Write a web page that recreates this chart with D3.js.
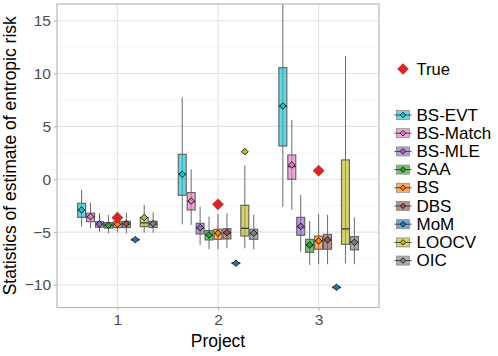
<!DOCTYPE html>
<html>
<head>
<meta charset="utf-8">
<script src="https://cdn.jsdelivr.net/npm/d3@7"></script>
<style>
  body { margin: 0; background: #fff; }
  svg { font-family: "Liberation Sans", Arial, Helvetica, sans-serif; }
</style>
</head>
<body>
<div id="chart"></div>
<script>
var projects = [1, 2, 3];
var methods = ["BS-EVT", "BS-Match", "BS-MLE", "SAA", "BS", "DBS", "MoM", "LOOCV", "OIC"];
var colors = ["#17becf", "#e377c2", "#9467bd", "#2ca02c", "#ff7f0e", "#8c564b", "#1f77b4", "#bcbd22", "#7f7f7f"];

// one row per project, one value per method
var whiskerLow = [
  [-4.48, -4.62, -4.96, -5.11, -5.05, -5.11, -5.83, -5.05, -5.05],
  [-4.26, -4.32, -6.21, -6.62, -6.62, -6.53, -8.04, -6.53, -6.62],
  [-2.59, -2.90, -6.85, -8.10, -8.04, -8.04, -10.31, -7.94, -8.04]
];
var q1 = [
  [-3.60, -4.01, -4.54, -4.62, -4.57, -4.57, -5.76, -4.48, -4.57],
  [-1.51, -2.90, -5.17, -5.74, -5.68, -5.65, -7.98, -5.37, -5.68],
  [3.15, 0.00, -5.30, -6.91, -6.62, -6.62, -10.26, -6.15, -6.68]
];
var median = [
  [-2.91, -3.56, -4.24, -4.37, -4.27, -4.22, -5.71, -4.12, -4.22],
  [0.51, -2.11, -4.62, -5.28, -5.13, -5.08, -7.94, -4.64, -5.13],
  [6.95, 1.20, -4.52, -6.23, -5.83, -5.73, -10.22, -4.70, -5.93]
];
var q3 = [
  [-2.27, -3.21, -4.01, -4.10, -4.01, -3.97, -5.66, -3.60, -3.97],
  [2.36, -1.26, -4.17, -4.85, -4.73, -4.67, -7.89, -2.46, -4.73],
  [10.56, 2.30, -3.60, -5.68, -5.37, -5.21, -10.18, 1.83, -5.43]
];
var whiskerHigh = [
  [-1.01, -2.21, -3.21, -3.37, -3.69, -3.15, -5.59, -2.43, -3.12],
  [7.76, 0.94, -2.59, -3.53, -3.28, -3.22, -7.84, 1.33, -3.37],
  [17.5, 5.62, -1.48, -3.95, -3.31, -3.37, -10.13, 11.66, -3.60]
];
var means = [
  [-2.90, -3.53, -4.23, -4.35, -4.26, -4.20, -5.71, -3.62, -4.20],
  [0.47, -2.06, -4.57, -5.27, -5.10, -5.04, -7.94, 2.61, -5.10],
  [6.93, 1.36, -4.45, -6.21, -5.83, -5.73, -10.22, 18, -5.96]
];
var trueValues = [-3.63, -2.37, 0.81];
var yTicks = [-10, -5, 0, 5, 10, 15];
var yMinor = [-7.5, -2.5, 2.5, 7.5, 12.5];

var W = 498, H = 356;
var panel = {left: 57, right: 379, top: 4, bottom: 307.5};

var svg = d3.select("#chart").append("svg")
  .attr("width", W).attr("height", H);

var x = d3.scaleLinear().domain([0.4, 3.6]).range([panel.left, panel.right]);
var y = d3.scaleLinear().domain([-12.13, 16.58]).range([panel.bottom, panel.top]);
var dodge = x(1.4) - x(0.6);
var xm = d3.scaleBand().domain(methods).range([-dodge / 2, dodge / 2]);
var color = d3.scaleOrdinal().domain(methods).range(colors);

var sqDiamond = {
  draw: function (ctx, size) {
    var r = Math.sqrt(size / 2);
    ctx.moveTo(0, -r); ctx.lineTo(r, 0); ctx.lineTo(0, r); ctx.lineTo(-r, 0); ctx.closePath();
  }
};

svg.append("clipPath").attr("id", "clip")
  .append("rect")
  .attr("x", panel.left).attr("y", panel.top)
  .attr("width", panel.right - panel.left).attr("height", panel.bottom - panel.top);

// grid
var grid = svg.append("g");
grid.selectAll("line.minor").data(yMinor).enter().append("line")
  .attr("x1", panel.left).attr("x2", panel.right)
  .attr("y1", function (d) { return y(d); }).attr("y2", function (d) { return y(d); })
  .style("stroke", "#f0f0f0").style("stroke-width", 0.6);
grid.selectAll("line.major").data(yTicks).enter().append("line")
  .attr("x1", panel.left).attr("x2", panel.right)
  .attr("y1", function (d) { return y(d); }).attr("y2", function (d) { return y(d); })
  .style("stroke", "#e3e3e3").style("stroke-width", 1.1);
grid.selectAll("line.vmajor").data(projects).enter().append("line")
  .attr("y1", panel.top).attr("y2", panel.bottom)
  .attr("x1", function (d) { return x(d); }).attr("x2", function (d) { return x(d); })
  .style("stroke", "#e3e3e3").style("stroke-width", 1.1);

// flatten to one record per box
var boxes = [];
projects.forEach(function (p, i) {
  methods.forEach(function (m, j) {
    boxes.push({project: p, method: m, lo: whiskerLow[i][j], q1: q1[i][j], med: median[i][j],
      q3: q3[i][j], hi: whiskerHigh[i][j], mean: means[i][j]});
  });
});

var marks = svg.append("g").attr("clip-path", "url(#clip)");
var bw = xm.bandwidth();
function cx(d) { return x(d.project) + xm(d.method) + bw / 2; }

var g = marks.selectAll("g.box").data(boxes).enter().append("g").attr("class", "box");
g.append("line")
  .attr("x1", cx).attr("x2", cx)
  .attr("y1", function (d) { return y(d.hi); }).attr("y2", function (d) { return y(d.lo); })
  .style("stroke", "#6b6b6b").style("stroke-width", 1);
g.append("rect")
  .attr("x", function (d) { return cx(d) - bw / 2 + 0.5; })
  .attr("width", bw - 1)
  .attr("y", function (d) { return y(d.q3); })
  .attr("height", function (d) { return Math.max(1, y(d.q1) - y(d.q3)); })
  .attr("fill", function (d) { return color(d.method); })
  .attr("fill-opacity", 0.65)
  .style("stroke", "#5e5e5e").style("stroke-width", 1.1);
g.append("line")
  .attr("x1", function (d) { return cx(d) - bw / 2 + 0.5; })
  .attr("x2", function (d) { return cx(d) + bw / 2 - 0.5; })
  .attr("y1", function (d) { return y(d.med); }).attr("y2", function (d) { return y(d.med); })
  .style("stroke", "#3a3a3a").style("stroke-width", 1.2);
g.append("path")
  .attr("d", d3.symbol().type(sqDiamond).size(22))
  .attr("transform", function (d) { return "translate(" + cx(d) + "," + y(d.mean) + ")"; })
  .attr("fill", function (d) { return color(d.method); })
  .style("stroke", "#111").style("stroke-width", 0.9);

marks.selectAll("path.true").data(trueValues).enter().append("path")
  .attr("class", "true")
  .attr("d", d3.symbol().type(sqDiamond).size(70))
  .attr("transform", function (d, i) { return "translate(" + x(projects[i]) + "," + y(d) + ")"; })
  .attr("fill", "#d62728");

// panel border
svg.append("rect")
  .attr("x", panel.left).attr("y", panel.top)
  .attr("width", panel.right - panel.left).attr("height", panel.bottom - panel.top)
  .attr("fill", "none").style("stroke", "#b3b3b3").style("stroke-width", 1.1);

// axes
var yAxis = svg.append("g")
  .attr("transform", "translate(" + panel.left + ",0)")
  .call(d3.axisLeft(y).tickValues(yTicks).tickSize(3).tickPadding(3));
var xAxis = svg.append("g")
  .attr("transform", "translate(0," + panel.bottom + ")")
  .call(d3.axisBottom(x).tickValues(projects).tickFormat(d3.format("d")).tickSize(3).tickPadding(3));
[yAxis, xAxis].forEach(function (a) {
  a.select(".domain").remove();
  a.selectAll(".tick line").style("stroke", "#b3b3b3").style("stroke-width", 1.1);
  a.selectAll(".tick text").style("font-size", "15.5px").attr("fill", "#4d4d4d")
    .style("font-family", "Liberation Sans, Arial, sans-serif");
});

svg.append("text")
  .attr("x", (panel.left + panel.right) / 2).attr("y", 347)
  .attr("text-anchor", "middle").style("font-size", "17.5px").attr("fill", "#000")
  .text("Project");
svg.append("text")
  .attr("transform", "translate(16," + (panel.top + panel.bottom) / 2 + ") rotate(-90)")
  .attr("text-anchor", "middle").style("font-size", "17.5px").attr("fill", "#000")
  .text("Statistics of estimate of entropic risk");

// legend
var lx = 403;
svg.append("path")
  .attr("d", d3.symbol().type(sqDiamond).size(66))
  .attr("transform", "translate(" + lx + ",69)")
  .attr("fill", "#d62728");
svg.append("text").attr("x", 416.5).attr("y", 74.5)
  .style("font-size", "16.5px").text("True");

var leg = svg.selectAll("g.leg").data(methods).enter().append("g")
  .attr("class", "leg")
  .attr("transform", function (d, i) { return "translate(" + lx + "," + (115 + i * 18.2) + ")"; });
leg.append("rect")
  .attr("x", -6.5).attr("y", -4.5).attr("width", 13).attr("height", 9)
  .attr("fill", function (d) { return color(d); }).attr("fill-opacity", 0.65)
  .style("stroke", "#8a8a8a").style("stroke-width", 0.8);
leg.append("line")
  .attr("x1", -8.5).attr("x2", 8.5)
  .style("stroke", "#444").style("stroke-width", 1);
leg.append("path")
  .attr("d", d3.symbol().type(sqDiamond).size(16))
  .attr("fill", function (d) { return color(d); })
  .style("stroke", "#111").style("stroke-width", 0.8);
leg.append("text")
  .attr("x", 13.5).attr("y", 5.5)
  .style("font-size", "17px")
  .text(function (d) { return d; });
</script>
</body>
</html>
